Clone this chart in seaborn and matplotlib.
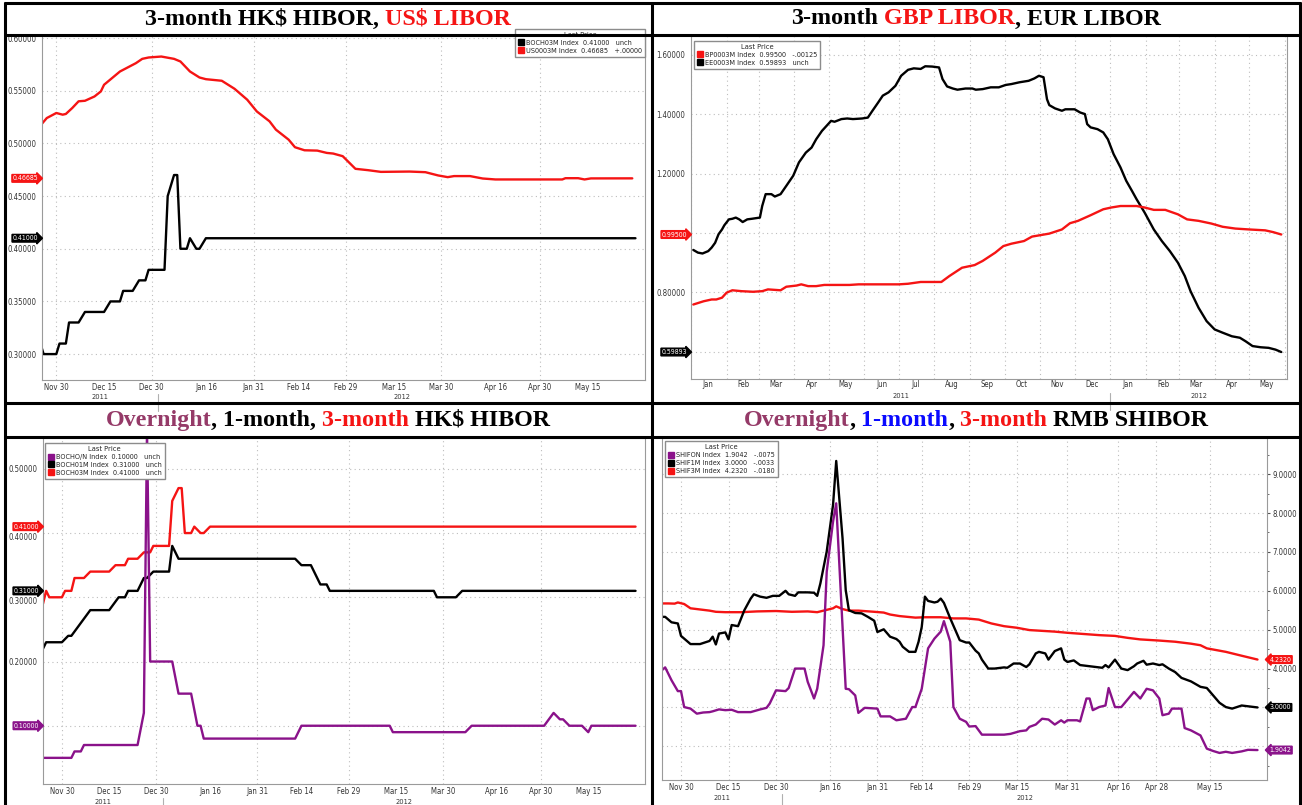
import matplotlib
matplotlib.use("Agg")
import matplotlib.pyplot as plt
import matplotlib.dates as mdates
import matplotlib.transforms as mtransforms
from matplotlib.patches import Patch
from matplotlib.offsetbox import TextArea, HPacker, AnchoredOffsetbox
from matplotlib.ticker import FixedLocator, MultipleLocator, FuncFormatter, NullFormatter
import pandas as pd
import seaborn as sns

RED = "#f51414"
PURPLE = "#8a128a"
MAROON = "#953a68"
BLUE = "#0a0aff"
BLACK = "#000000"

# ---------------- data ----------------
# 3-month HK$ HIBOR (BOCH03M) - used in panel 1 and panel 3
hibor_3m_dates = ["2011-11-24", "2011-11-25", "2011-11-26", "2011-11-30", "2011-12-01", "2011-12-03",
                  "2011-12-04", "2011-12-07", "2011-12-09", "2011-12-15", "2011-12-17", "2011-12-20",
                  "2011-12-21", "2011-12-24", "2011-12-26", "2011-12-28", "2011-12-29", "2012-01-03",
                  "2012-01-04", "2012-01-06", "2012-01-07", "2012-01-08", "2012-01-10", "2012-01-11",
                  "2012-01-13", "2012-01-14", "2012-01-16", "2012-05-30"]
hibor_3m = [0.29, 0.31, 0.30, 0.30, 0.31, 0.31, 0.33, 0.33, 0.34, 0.34, 0.35, 0.35, 0.36, 0.36,
            0.37, 0.37, 0.38, 0.38, 0.45, 0.47, 0.47, 0.40, 0.40, 0.41, 0.40, 0.40, 0.41, 0.41]

# 3-month US$ LIBOR (US0003M)
usd_libor_dates = ["2011-11-25", "2011-11-27", "2011-11-30", "2011-12-02", "2011-12-03", "2011-12-05",
                   "2011-12-07", "2011-12-09", "2011-12-12", "2011-12-14", "2011-12-15", "2011-12-20",
                   "2011-12-25", "2011-12-27", "2011-12-29", "2012-01-02", "2012-01-06", "2012-01-08",
                   "2012-01-11", "2012-01-14", "2012-01-16", "2012-01-21", "2012-01-25", "2012-01-29",
                   "2012-02-01", "2012-02-05", "2012-02-07", "2012-02-11", "2012-02-13", "2012-02-16",
                   "2012-02-20", "2012-02-23", "2012-02-25", "2012-02-28", "2012-03-03", "2012-03-07",
                   "2012-03-11", "2012-03-20", "2012-03-25", "2012-03-29", "2012-04-01", "2012-04-03",
                   "2012-04-08", "2012-04-12", "2012-04-16", "2012-05-07", "2012-05-08", "2012-05-12",
                   "2012-05-14", "2012-05-16", "2012-05-29"]
usd_libor = [0.5170, 0.5241, 0.5289, 0.5273, 0.5280, 0.5336, 0.5400, 0.5405, 0.5446, 0.5494, 0.5557,
             0.5683, 0.5762, 0.5803, 0.5816, 0.5825, 0.5803, 0.5778, 0.5683, 0.5626, 0.5610, 0.5595,
             0.5519, 0.5415, 0.5304, 0.5210, 0.5131, 0.5036, 0.4964, 0.4935, 0.4932, 0.4910, 0.4904,
             0.4879, 0.4759, 0.4746, 0.4730, 0.4733, 0.4727, 0.4696, 0.4680, 0.4690, 0.4690, 0.4667,
             0.4658, 0.4658, 0.4670, 0.4670, 0.4658, 0.4668, 0.46685]

# 3-month GBP LIBOR (BP0003M)
gbp_libor_dates = ["2011-01-03", "2011-01-12", "2011-01-19", "2011-01-23", "2011-01-28", "2011-02-01",
                   "2011-02-06", "2011-02-14", "2011-02-24", "2011-03-04", "2011-03-09", "2011-03-20",
                   "2011-03-25", "2011-04-03", "2011-04-07", "2011-04-13", "2011-04-20", "2011-04-27",
                   "2011-05-19", "2011-05-27", "2011-07-01", "2011-07-09", "2011-07-20", "2011-08-07",
                   "2011-08-14", "2011-08-25", "2011-09-05", "2011-09-12", "2011-09-23", "2011-09-30",
                   "2011-10-07", "2011-10-18", "2011-10-25", "2011-11-09", "2011-11-20", "2011-11-27",
                   "2011-12-04", "2011-12-15", "2011-12-26", "2012-01-02", "2012-01-10", "2012-01-24",
                   "2012-01-31", "2012-02-08", "2012-02-18", "2012-02-29", "2012-03-08", "2012-03-18",
                   "2012-03-29", "2012-04-08", "2012-04-19", "2012-05-01", "2012-05-15", "2012-05-22",
                   "2012-05-29"]
gbp_libor = [0.759, 0.770, 0.776, 0.776, 0.782, 0.799, 0.807, 0.804, 0.802, 0.804, 0.810, 0.807,
             0.819, 0.823, 0.827, 0.821, 0.821, 0.825, 0.825, 0.827, 0.827, 0.829, 0.835, 0.835,
             0.855, 0.883, 0.892, 0.906, 0.934, 0.956, 0.964, 0.973, 0.988, 0.998, 1.012, 1.033,
             1.041, 1.060, 1.080, 1.086, 1.091, 1.091, 1.086, 1.078, 1.078, 1.063, 1.046, 1.041,
             1.032, 1.021, 1.015, 1.012, 1.009, 1.003, 0.995]

# 3-month EUR LIBOR (EE0003M)
eur_libor_dates = ["2011-01-03", "2011-01-07", "2011-01-11", "2011-01-16", "2011-01-19", "2011-01-22",
                   "2011-01-25", "2011-01-28", "2011-01-30", "2011-02-03", "2011-02-06", "2011-02-09",
                   "2011-02-12", "2011-02-15", "2011-02-19", "2011-02-23", "2011-03-02", "2011-03-04",
                   "2011-03-07", "2011-03-12", "2011-03-15", "2011-03-20", "2011-03-25", "2011-03-31",
                   "2011-04-05", "2011-04-11", "2011-04-16", "2011-04-20", "2011-04-25", "2011-04-29",
                   "2011-05-03", "2011-05-06", "2011-05-12", "2011-05-17", "2011-05-22", "2011-05-30",
                   "2011-06-04", "2011-06-08", "2011-06-13", "2011-06-17", "2011-06-22", "2011-06-28",
                   "2011-07-03", "2011-07-09", "2011-07-14", "2011-07-20", "2011-07-24", "2011-07-30",
                   "2011-08-05", "2011-08-08", "2011-08-12", "2011-08-17", "2011-08-21", "2011-08-28",
                   "2011-09-03", "2011-09-06", "2011-09-12", "2011-09-19", "2011-09-26", "2011-10-02",
                   "2011-10-07", "2011-10-14", "2011-10-22", "2011-10-27", "2011-10-31", "2011-11-04",
                   "2011-11-07", "2011-11-09", "2011-11-14", "2011-11-20", "2011-11-23", "2011-12-01",
                   "2011-12-06", "2011-12-10", "2011-12-12", "2011-12-15", "2011-12-21", "2011-12-26",
                   "2011-12-30", "2012-01-04", "2012-01-10", "2012-01-15", "2012-01-20", "2012-01-24",
                   "2012-01-31", "2012-02-08", "2012-02-15", "2012-02-22", "2012-02-29", "2012-03-06",
                   "2012-03-11", "2012-03-18", "2012-03-25", "2012-04-01", "2012-04-08", "2012-04-16",
                   "2012-04-23", "2012-04-28", "2012-05-04", "2012-05-11", "2012-05-18", "2012-05-24",
                   "2012-05-29"]
eur_libor = [0.943, 0.934, 0.931, 0.939, 0.951, 0.967, 0.996, 1.012, 1.026, 1.046, 1.048, 1.052,
             1.046, 1.037, 1.046, 1.048, 1.052, 1.091, 1.131, 1.131, 1.123, 1.131, 1.159, 1.193,
             1.238, 1.271, 1.288, 1.316, 1.344, 1.361, 1.378, 1.375, 1.384, 1.386, 1.384, 1.386,
             1.389, 1.412, 1.440, 1.463, 1.474, 1.496, 1.530, 1.550, 1.555, 1.553, 1.562, 1.561,
             1.558, 1.519, 1.494, 1.487, 1.483, 1.487, 1.487, 1.483, 1.485, 1.491, 1.491, 1.499,
             1.502, 1.508, 1.513, 1.521, 1.530, 1.525, 1.451, 1.431, 1.420, 1.412, 1.417, 1.417,
             1.406, 1.401, 1.367, 1.356, 1.350, 1.339, 1.316, 1.266, 1.221, 1.176, 1.142, 1.114,
             1.069, 1.012, 0.973, 0.939, 0.900, 0.855, 0.804, 0.748, 0.703, 0.675, 0.664, 0.652,
             0.647, 0.635, 0.619, 0.615, 0.613, 0.607, 0.59893]

# 1-month HK$ HIBOR (BOCH01M)
hibor_1m_dates = ["2011-11-24", "2011-11-25", "2011-11-30", "2011-12-02", "2011-12-03", "2011-12-09",
                  "2011-12-15", "2011-12-18", "2011-12-20", "2011-12-21", "2011-12-24", "2011-12-26",
                  "2011-12-27", "2011-12-29", "2012-01-03", "2012-01-04", "2012-01-06", "2012-02-12",
                  "2012-02-14", "2012-02-17", "2012-02-19", "2012-02-20", "2012-02-22", "2012-02-23",
                  "2012-03-27", "2012-03-28", "2012-04-03", "2012-04-05", "2012-05-30"]
hibor_1m = [0.22, 0.23, 0.23, 0.24, 0.24, 0.28, 0.28, 0.30, 0.30, 0.31, 0.31, 0.33, 0.33, 0.34,
            0.34, 0.38, 0.36, 0.36, 0.35, 0.35, 0.33, 0.32, 0.32, 0.31, 0.31, 0.30, 0.30, 0.31, 0.31]

# overnight HK$ HIBOR (BOCHO/N)
hibor_on_dates = ["2011-11-24", "2011-12-03", "2011-12-04", "2011-12-06", "2011-12-07", "2011-12-24",
                  "2011-12-26", "2011-12-27", "2011-12-28", "2012-01-04", "2012-01-06", "2012-01-10",
                  "2012-01-12", "2012-01-13", "2012-01-14", "2012-02-12", "2012-02-14", "2012-03-13",
                  "2012-03-14", "2012-04-06", "2012-04-08", "2012-05-01", "2012-05-04", "2012-05-06",
                  "2012-05-07", "2012-05-09", "2012-05-13", "2012-05-15", "2012-05-16", "2012-05-30"]
hibor_on = [0.05, 0.05, 0.06, 0.06, 0.07, 0.07, 0.12, 0.56, 0.20, 0.20, 0.15, 0.15, 0.10, 0.10,
            0.08, 0.08, 0.10, 0.10, 0.09, 0.09, 0.10, 0.10, 0.12, 0.11, 0.11, 0.10, 0.10, 0.09,
            0.10, 0.10]

# 3-month SHIBOR (SHIF3M)
shibor_3m_dates = ["2011-11-24", "2011-11-26", "2011-11-28", "2011-11-29", "2011-12-01", "2011-12-03",
                   "2011-12-06", "2011-12-09", "2011-12-11", "2011-12-14", "2011-12-19", "2011-12-24",
                   "2011-12-30", "2012-01-04", "2012-01-09", "2012-01-12", "2012-01-14", "2012-01-17",
                   "2012-01-18", "2012-01-20", "2012-01-22", "2012-01-25", "2012-01-30", "2012-02-02",
                   "2012-02-04", "2012-02-07", "2012-02-12", "2012-02-15", "2012-02-20", "2012-02-24",
                   "2012-02-28", "2012-03-03", "2012-03-07", "2012-03-11", "2012-03-15", "2012-03-19",
                   "2012-03-23", "2012-03-27", "2012-03-31", "2012-04-05", "2012-04-10", "2012-04-15",
                   "2012-04-19", "2012-04-23", "2012-04-29", "2012-05-04", "2012-05-09", "2012-05-12",
                   "2012-05-14", "2012-05-20", "2012-05-25", "2012-05-30"]
shibor_3m = [5.675, 5.675, 5.67, 5.70, 5.66, 5.55, 5.52, 5.49, 5.46, 5.45, 5.45, 5.47, 5.48, 5.46,
             5.47, 5.45, 5.49, 5.55, 5.60, 5.53, 5.49, 5.49, 5.46, 5.44, 5.39, 5.35, 5.31, 5.32,
             5.32, 5.29, 5.29, 5.26, 5.16, 5.09, 5.05, 4.99, 4.97, 4.95, 4.92, 4.89, 4.86, 4.84,
             4.79, 4.75, 4.72, 4.69, 4.64, 4.60, 4.52, 4.43, 4.33, 4.232]

# 1-month SHIBOR (SHIF1M)
shibor_1m_dates = ["2011-11-24", "2011-11-25", "2011-11-27", "2011-11-29", "2011-11-30", "2011-12-01",
                   "2011-12-03", "2011-12-06", "2011-12-09", "2011-12-10", "2011-12-11", "2011-12-12",
                   "2011-12-14", "2011-12-15", "2011-12-16", "2011-12-18", "2011-12-20", "2011-12-22",
                   "2011-12-23", "2011-12-25", "2011-12-27", "2011-12-29", "2011-12-31", "2012-01-02",
                   "2012-01-03", "2012-01-05", "2012-01-06", "2012-01-09", "2012-01-11", "2012-01-12",
                   "2012-01-13", "2012-01-15", "2012-01-17", "2012-01-18", "2012-01-20", "2012-01-21",
                   "2012-01-22", "2012-01-24", "2012-01-26", "2012-01-28", "2012-01-30", "2012-01-31",
                   "2012-02-02", "2012-02-04", "2012-02-06", "2012-02-07", "2012-02-08", "2012-02-10",
                   "2012-02-12", "2012-02-13", "2012-02-14", "2012-02-15", "2012-02-16", "2012-02-18",
                   "2012-02-19", "2012-02-20", "2012-02-21", "2012-02-23", "2012-02-26", "2012-02-28",
                   "2012-02-29", "2012-03-02", "2012-03-03", "2012-03-04", "2012-03-06", "2012-03-08",
                   "2012-03-11", "2012-03-12", "2012-03-14", "2012-03-16", "2012-03-18", "2012-03-19",
                   "2012-03-21", "2012-03-22", "2012-03-24", "2012-03-25", "2012-03-27", "2012-03-29",
                   "2012-03-30", "2012-03-31", "2012-04-02", "2012-04-04", "2012-04-06", "2012-04-09",
                   "2012-04-11", "2012-04-12", "2012-04-13", "2012-04-15", "2012-04-17", "2012-04-19",
                   "2012-04-21", "2012-04-22", "2012-04-24", "2012-04-25", "2012-04-27", "2012-04-29",
                   "2012-04-30", "2012-05-02", "2012-05-04", "2012-05-06", "2012-05-09", "2012-05-12",
                   "2012-05-14", "2012-05-16", "2012-05-18", "2012-05-20", "2012-05-22", "2012-05-25",
                   "2012-05-27", "2012-05-30"]
shibor_1m = [5.33, 5.33, 5.19, 5.16, 4.84, 4.77, 4.63, 4.63, 4.71, 4.82, 4.62, 4.90, 4.93, 4.75,
             5.12, 5.09, 5.50, 5.80, 5.91, 5.85, 5.82, 5.87, 5.87, 6.00, 5.91, 5.87, 5.96, 5.96,
             5.95, 5.87, 6.19, 7.01, 8.21, 9.34, 7.35, 6.02, 5.50, 5.43, 5.42, 5.33, 5.23, 4.94,
             5.01, 4.82, 4.76, 4.69, 4.56, 4.43, 4.43, 4.69, 5.07, 5.85, 5.74, 5.70, 5.72, 5.80,
             5.69, 5.29, 4.73, 4.67, 4.67, 4.46, 4.39, 4.23, 4.00, 4.00, 4.03, 4.02, 4.13, 4.13,
             4.04, 4.11, 4.39, 4.43, 4.39, 4.23, 4.45, 4.52, 4.23, 4.17, 4.21, 4.09, 4.07, 4.04,
             4.02, 4.09, 4.03, 4.23, 4.00, 3.96, 4.06, 4.13, 4.20, 4.10, 4.13, 4.09, 4.11, 4.00,
             3.91, 3.76, 3.67, 3.53, 3.50, 3.31, 3.12, 3.01, 2.97, 3.05, 3.03, 3.00]

# overnight SHIBOR (SHIFON)
shibor_on_dates = ["2011-11-24", "2011-11-25", "2011-11-27", "2011-11-29", "2011-11-30", "2011-12-01",
                   "2011-12-03", "2011-12-05", "2011-12-07", "2011-12-09", "2011-12-10", "2011-12-12",
                   "2011-12-14", "2011-12-16", "2011-12-18", "2011-12-22", "2011-12-25", "2011-12-27",
                   "2011-12-28", "2011-12-30", "2012-01-02", "2012-01-03", "2012-01-05", "2012-01-08",
                   "2012-01-09", "2012-01-11", "2012-01-12", "2012-01-14", "2012-01-15", "2012-01-17",
                   "2012-01-18", "2012-01-21", "2012-01-22", "2012-01-24", "2012-01-25", "2012-01-27",
                   "2012-01-31", "2012-02-01", "2012-02-04", "2012-02-06", "2012-02-09", "2012-02-11",
                   "2012-02-12", "2012-02-14", "2012-02-16", "2012-02-18", "2012-02-20", "2012-02-21",
                   "2012-02-23", "2012-02-24", "2012-02-26", "2012-02-28", "2012-02-29", "2012-03-02",
                   "2012-03-04", "2012-03-11", "2012-03-13", "2012-03-16", "2012-03-18", "2012-03-19",
                   "2012-03-21", "2012-03-23", "2012-03-25", "2012-03-27", "2012-03-29", "2012-03-30",
                   "2012-03-31", "2012-04-03", "2012-04-04", "2012-04-06", "2012-04-07", "2012-04-08",
                   "2012-04-10", "2012-04-12", "2012-04-13", "2012-04-15", "2012-04-17", "2012-04-21",
                   "2012-04-23", "2012-04-25", "2012-04-27", "2012-04-29", "2012-04-30", "2012-05-02",
                   "2012-05-03", "2012-05-06", "2012-05-07", "2012-05-09", "2012-05-12", "2012-05-14",
                   "2012-05-16", "2012-05-18", "2012-05-20", "2012-05-22", "2012-05-25", "2012-05-27",
                   "2012-05-30"]
shibor_on = [3.96, 4.03, 3.70, 3.42, 3.42, 3.01, 2.97, 2.84, 2.87, 2.88, 2.90, 2.95, 2.93, 2.94,
             2.88, 2.88, 2.95, 2.99, 3.10, 3.44, 3.42, 3.50, 4.00, 4.00, 3.66, 3.23, 3.48, 4.60,
             6.49, 7.78, 8.25, 3.48, 3.47, 3.31, 2.86, 2.99, 2.97, 2.77, 2.77, 2.67, 2.71, 3.01,
             3.01, 3.48, 4.52, 4.77, 4.95, 5.22, 4.69, 3.01, 2.71, 2.63, 2.51, 2.52, 2.30, 2.30,
             2.32, 2.39, 2.41, 2.50, 2.56, 2.71, 2.69, 2.56, 2.67, 2.61, 2.67, 2.67, 2.64, 3.23,
             3.23, 2.93, 3.01, 3.05, 3.50, 3.01, 3.01, 3.40, 3.23, 3.48, 3.44, 3.23, 2.80, 2.84,
             2.97, 2.97, 2.47, 2.41, 2.28, 1.94, 1.88, 1.83, 1.86, 1.83, 1.87, 1.91, 1.9042]

# x tick labels
hibor_ticks_grid = ["2011-11-30", "2011-12-30", "2012-01-31", "2012-02-29", "2012-03-30", "2012-04-30"]
hibor_ticks_plain = ["2011-12-15", "2012-01-16", "2012-02-14", "2012-03-15", "2012-04-16", "2012-05-15"]
shibor_ticks = ["2011-11-30", "2011-12-15", "2011-12-30", "2012-01-16", "2012-01-31", "2012-02-14",
                "2012-02-29", "2012-03-15", "2012-03-31", "2012-04-16", "2012-04-28", "2012-05-15"]

# legend texts
legend_p1 = ["BOCH03M Index  0.41000   unch", "US0003M Index  0.46685   +.00000"]
legend_p2 = ["BP0003M Index  0.99500   -.00125", "EE0003M Index  0.59893   unch"]
legend_p3 = ["BOCHO/N Index  0.10000   unch", "BOCH01M Index  0.31000   unch",
             "BOCH03M Index  0.41000   unch"]
legend_p4 = ["SHIFON Index  1.9042   -.0075", "SHIF1M Index  3.0000   -.0033",
             "SHIF3M Index  4.2320   -.0180"]

titles = [
    [("3-month HK\\$ HIBOR,", BLACK), (" US\\$ LIBOR", RED)],
    [("3-month", BLACK), (" GBP LIBOR", RED), (", EUR LIBOR", BLACK)],
    [("Overnight", MAROON), (", 1-month,", BLACK), (" 3-month", RED), (" HK\\$ HIBOR", BLACK)],
    [("Overnight", MAROON), (",", BLACK), (" 1-month", BLUE), (",", BLACK), (" 3-month", RED),
     (" RMB SHIBOR", BLACK)],
]

# ---------------- style ----------------
sns.set_style("white")
plt.rcParams["font.family"] = ["DejaVu Sans"]
SMALL = dict(family="DejaVu Sans", stretch="condensed")

W, H = 1302, 805
fig = plt.figure(figsize=(W / 100, H / 100), dpi=100)


def frame(*series):
    parts = []
    for name, dates, vals in series:
        parts.append(pd.DataFrame({"date": pd.to_datetime(dates), "value": vals, "series": name}))
    return pd.concat(parts, ignore_index=True)


def add_axes(l, t, r, b):
    return fig.add_axes([l / W, 1 - b / H, (r - l) / W, (b - t) / H])


def style_axes(ax, xlim, ylim, ymaj, ymin, digits, right=False, hide=(), drop=()):
    # hide: tick labels covered by a value tag; drop: labels shown just under the tick
    ax.set_xlim(pd.Timestamp(xlim[0]), pd.Timestamp(xlim[1]))
    ax.set_ylim(*ylim)
    ax.set_xlabel("")
    ax.set_ylabel("")
    ax.yaxis.set_major_locator(MultipleLocator(ymaj))
    ax.yaxis.set_minor_locator(MultipleLocator(ymin))
    skip = [round(v, 4) for v in list(hide) + list(drop)]
    ax.yaxis.set_major_formatter(FuncFormatter(
        lambda v, p: "" if round(v, 4) in skip else f"{v:.{digits}f}"))
    if right:
        ax.yaxis.tick_right()
    ax.grid(True, which="major", linestyle=(0, (1, 3)), color="#bdbdbd", linewidth=0.8)
    for s in ax.spines.values():
        s.set_color("#9a9a9a")
        s.set_linewidth(0.8)
    ax.tick_params(which="both", labelsize=5.6, labelcolor="#333333", color="#555555", pad=1.5)
    ax.tick_params(axis="y", which="major", length=2.5, width=0.8)
    ax.tick_params(axis="y", which="minor", length=1.5, width=0.6)
    ax.tick_params(axis="x", which="both", length=1.5, width=0.8, pad=1.0)
    for lab in ax.get_xticklabels(which="both") + ax.get_yticklabels():
        lab.set_fontstretch("condensed")
    trans = mtransforms.blended_transform_factory(ax.transAxes, ax.transData)
    for v in drop:
        ax.text(-0.009, v, f"{v:.{digits}f}", transform=trans, ha="right", va="top",
                fontsize=5.6, color="#333333", clip_on=False, **SMALL)


def year_row(ax, years, ypos):
    trans = mtransforms.blended_transform_factory(ax.transData, ax.transAxes)
    x0, x1 = ax.get_xlim()
    for yr in years:
        a = max(x0, mdates.date2num(pd.Timestamp(f"{yr}-01-01")))
        b = min(x1, mdates.date2num(pd.Timestamp(f"{yr + 1}-01-01")))
        ax.text((a + b) / 2, ypos, str(yr), transform=trans, ha="center", va="center",
                fontsize=5.3, color="#333333", **SMALL)
        if a > x0:
            ax.plot([a, a], [ypos + 0.01, ypos - 0.04], transform=trans, clip_on=False,
                    color="#b0b0b0", linewidth=0.8)


def tag(ax, value, text, color, right=False):
    trans = mtransforms.blended_transform_factory(ax.transAxes, ax.transData)
    x, ha, style = (1.004, "left", "larrow") if right else (-0.006, "right", "rarrow")
    ax.text(x, value, text, transform=trans, ha=ha, va="center", color="white",
            fontsize=5.0, clip_on=False, zorder=10, **SMALL,
            bbox=dict(boxstyle=f"{style},pad=0.12", fc=color, ec=color))


def last_price_legend(ax, labels, colors, loc, anchor):
    handles = [Patch(facecolor=c, edgecolor=c, label=l) for l, c in zip(labels, colors)]
    leg = ax.legend(handles=handles, title="Last Price", loc=loc, bbox_to_anchor=anchor,
                    prop=dict(size=5.2, **SMALL), title_fontproperties=dict(size=5.4, **SMALL),
                    frameon=True, fancybox=False, framealpha=1, edgecolor="#8c8c8c",
                    handlelength=0.9, handleheight=0.9, handletextpad=0.25, borderpad=0.4,
                    labelspacing=0.2, borderaxespad=0)
    leg.get_frame().set_linewidth(1.0)
    leg.set_zorder(12)


def hibor_xticks(ax):
    ax.xaxis.set_major_locator(FixedLocator(mdates.date2num(pd.to_datetime(hibor_ticks_grid))))
    ax.xaxis.set_minor_locator(FixedLocator(mdates.date2num(pd.to_datetime(hibor_ticks_plain))))
    ax.xaxis.set_major_formatter(mdates.DateFormatter("%b %d"))
    ax.xaxis.set_minor_formatter(mdates.DateFormatter("%b %d"))


# ---------------- panel 1: 3M HIBOR vs US$ LIBOR ----------------
ax1 = add_axes(42, 36, 645, 380)
d1 = frame(("BOCH03M", hibor_3m_dates, hibor_3m), ("US0003M", usd_libor_dates, usd_libor))
sns.lineplot(data=d1, x="date", y="value", hue="series", hue_order=["US0003M", "BOCH03M"],
             palette={"BOCH03M": BLACK, "US0003M": RED}, linewidth=1.7, legend=False,
             estimator=None, ax=ax1)
hibor_xticks(ax1)
style_axes(ax1, ("2011-11-25 12:00", "2012-06-02"), (0.2754, 0.602), 0.05, 0.025, 5)
year_row(ax1, [2011, 2012], -0.05)
tag(ax1, usd_libor[-1], "0.46685", RED)
tag(ax1, hibor_3m[-1], "0.41000", BLACK)
last_price_legend(ax1, legend_p1, [BLACK, RED], "upper right", (1.0, 1.02))

# ---------------- panel 2: GBP vs EUR LIBOR ----------------
ax2 = add_axes(691, 36, 1287, 379)
d2 = frame(("BP0003M", gbp_libor_dates, gbp_libor), ("EE0003M", eur_libor_dates, eur_libor))
sns.lineplot(data=d2, x="date", y="value", hue="series", hue_order=["EE0003M", "BP0003M"],
             palette={"BP0003M": RED, "EE0003M": BLACK}, linewidth=1.7, legend=False,
             estimator=None, ax=ax2)
ax2.xaxis.set_major_locator(mdates.MonthLocator())
ax2.xaxis.set_major_formatter(NullFormatter())
ax2.xaxis.set_minor_locator(mdates.MonthLocator(bymonthday=16))
ax2.xaxis.set_minor_formatter(mdates.DateFormatter("%b"))
style_axes(ax2, ("2011-01-01", "2012-06-03"), (0.508, 1.664), 0.2, 0.1, 5, hide=(0.6, 1.0))
ax2.tick_params(axis="x", which="minor", length=0)
year_row(ax2, [2011, 2012], -0.05)
tag(ax2, gbp_libor[-1], "0.99500", RED)
tag(ax2, eur_libor[-1], "0.59893", BLACK)
last_price_legend(ax2, legend_p2, [RED, BLACK], "upper left", (0.005, 0.985))

# ---------------- panel 3: O/N, 1M, 3M HIBOR ----------------
ax3 = add_axes(43, 438, 645, 784)
d3 = frame(("BOCHO/N", hibor_on_dates, hibor_on), ("BOCH01M", hibor_1m_dates, hibor_1m),
           ("BOCH03M", hibor_3m_dates, hibor_3m))
sns.lineplot(data=d3, x="date", y="value", hue="series",
             hue_order=["BOCH03M", "BOCH01M", "BOCHO/N"],
             palette={"BOCHO/N": PURPLE, "BOCH01M": BLACK, "BOCH03M": RED}, linewidth=1.7,
             legend=False, estimator=None, ax=ax3)
hibor_xticks(ax3)
style_axes(ax3, ("2011-11-24", "2012-06-02"), (0.0093, 0.548), 0.1, 0.05, 5,
           hide=(0.1,), drop=(0.3, 0.4))
year_row(ax3, [2011, 2012], -0.051)
tag(ax3, hibor_3m[-1], "0.41000", RED)
tag(ax3, hibor_1m[-1], "0.31000", BLACK)
tag(ax3, hibor_on[-1], "0.10000", PURPLE)
last_price_legend(ax3, legend_p3, [PURPLE, BLACK, RED], "upper left", (0.003, 0.985))

# ---------------- panel 4: O/N, 1M, 3M SHIBOR ----------------
ax4 = add_axes(662, 438, 1267, 780)
d4 = frame(("SHIFON", shibor_on_dates, shibor_on), ("SHIF1M", shibor_1m_dates, shibor_1m),
           ("SHIF3M", shibor_3m_dates, shibor_3m))
sns.lineplot(data=d4, x="date", y="value", hue="series", hue_order=["SHIF3M", "SHIF1M", "SHIFON"],
             palette={"SHIFON": PURPLE, "SHIF1M": BLACK, "SHIF3M": RED}, linewidth=1.7,
             legend=False, estimator=None, ax=ax4)
ax4.xaxis.set_major_locator(FixedLocator(mdates.date2num(pd.to_datetime(shibor_ticks))))
ax4.xaxis.set_major_formatter(mdates.DateFormatter("%b %d"))
style_axes(ax4, ("2011-11-24", "2012-06-02"), (1.134, 9.93), 1.0, 0.5, 4, right=True,
           hide=(2.0, 3.0))
year_row(ax4, [2011, 2012], -0.052)
tag(ax4, shibor_3m[-1], "4.2320", RED, right=True)
tag(ax4, shibor_1m[-1], "3.0000", BLACK, right=True)
tag(ax4, shibor_on[-1], "1.9042", PURPLE, right=True)
last_price_legend(ax4, legend_p4, [PURPLE, BLACK, RED], "upper left", (0.005, 0.99))

# ---------------- frame lines and titles ----------------
top = fig.add_axes([0, 0, 1, 1], zorder=20)
top.set_axis_off()
top.set_xlim(0, W)
top.set_ylim(H, 0)
top.patch.set_alpha(0)
for y in (3, 35, 403, 437):
    top.plot([4, 1301], [y, y], color="black", linewidth=2.2, solid_capstyle="butt")
for x in (5, 652, 1300):
    top.plot([x, x], [2, H], color="black", linewidth=2.2, solid_capstyle="butt")

title_centres = [(328, 19), (976, 19), (328, 420), (976, 420)]
for pieces, (cx, cy) in zip(titles, title_centres):
    boxes = [TextArea(s, textprops=dict(color=c, family="Liberation Serif", weight="bold",
                                        size=17.3)) for s, c in pieces]
    pack = HPacker(children=boxes, pad=0, sep=0, align="baseline")
    anchored = AnchoredOffsetbox(loc="center", child=pack, pad=0, borderpad=0, frameon=False,
                                 bbox_to_anchor=(cx / W, 1 - cy / H),
                                 bbox_transform=fig.transFigure)
    top.add_artist(anchored)

fig.savefig("out.png", dpi=100)
